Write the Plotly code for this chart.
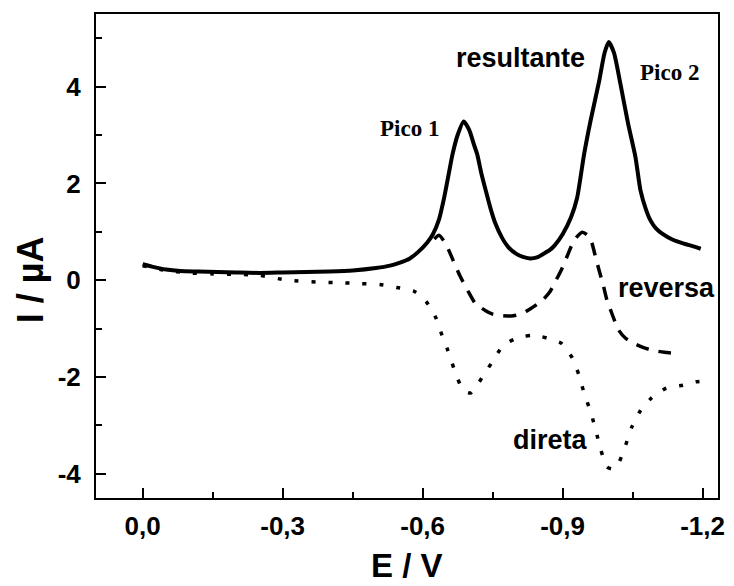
import plotly.graph_objects as go

# Potential E (V) and current I (µA) read along each voltammogram component
E_resultante = [0.00, -0.02, -0.05, -0.08, -0.12, -0.16, -0.20, -0.25, -0.30, -0.35,
                -0.40, -0.45, -0.50, -0.53, -0.55, -0.571, -0.59, -0.61, -0.622, -0.635,
                -0.646, -0.655, -0.664, -0.675, -0.688, -0.700, -0.710, -0.717, -0.726, -0.734,
                -0.745, -0.756, -0.770, -0.784, -0.800, -0.815, -0.830, -0.845, -0.860, -0.872,
                -0.883, -0.900, -0.918, -0.931, -0.946, -0.960, -0.978, -0.990, -0.999, -1.010,
                -1.024, -1.040, -1.056, -1.067, -1.078, -1.088, -1.100, -1.115, -1.135, -1.158,
                -1.180, -1.196]
I_resultante = [0.33, 0.28, 0.22, 0.19, 0.18, 0.17, 0.16, 0.15, 0.16, 0.17,
                0.18, 0.20, 0.25, 0.30, 0.36, 0.44, 0.58, 0.78, 0.95, 1.25,
                1.70, 2.15, 2.60, 3.00, 3.28, 3.10, 2.80, 2.60, 2.20, 1.90,
                1.50, 1.17, 0.88, 0.68, 0.55, 0.48, 0.45, 0.47, 0.55, 0.62,
                0.72, 0.95, 1.30, 1.70, 2.60, 3.30, 4.10, 4.70, 4.92, 4.70,
                4.05, 3.25, 2.55, 1.85, 1.48, 1.24, 1.07, 0.95, 0.84, 0.76,
                0.70, 0.65]

E_reversa = [-0.625, -0.635, -0.645, -0.656, -0.668, -0.681, -0.697, -0.713, -0.735, -0.750,
             -0.770, -0.790, -0.810, -0.826, -0.845, -0.860, -0.872, -0.886, -0.900, -0.912,
             -0.925, -0.942, -0.955, -0.963, -0.970, -0.978, -0.987, -0.995, -1.008, -1.020,
             -1.035, -1.052, -1.072, -1.094, -1.118, -1.140]
I_reversa = [0.85, 0.93, 0.82, 0.62, 0.35, 0.07, -0.22, -0.48, -0.63, -0.70,
             -0.73, -0.74, -0.70, -0.62, -0.50, -0.38, -0.25, 0.00, 0.27, 0.55,
             0.83, 0.99, 0.92, 0.76, 0.50, 0.21, -0.10, -0.41, -0.75, -1.03,
             -1.20, -1.30, -1.39, -1.45, -1.49, -1.51]

E_direta = [0.00, -0.05, -0.10, -0.15, -0.20, -0.25, -0.31, -0.375, -0.42, -0.466,
            -0.508, -0.544, -0.58, -0.598, -0.612, -0.629, -0.639, -0.654, -0.667, -0.681,
            -0.692, -0.703, -0.715, -0.728, -0.749, -0.770, -0.786, -0.802, -0.818, -0.834,
            -0.852, -0.868, -0.883, -0.897, -0.910, -0.921, -0.935, -0.946, -0.961, -0.971,
            -0.982, -0.995, -1.008, -1.020, -1.035, -1.048, -1.067, -1.090, -1.122, -1.158,
            -1.185, -1.195]
I_direta = [0.30, 0.20, 0.15, 0.13, 0.12, 0.10, 0.00, -0.04, -0.05, -0.07,
            -0.09, -0.15, -0.22, -0.33, -0.50, -0.79, -1.07, -1.45, -1.82, -2.17,
            -2.30, -2.33, -2.20, -2.00, -1.69, -1.38, -1.27, -1.20, -1.16, -1.14,
            -1.16, -1.20, -1.25, -1.30, -1.45, -1.61, -1.96, -2.33, -2.75, -3.10,
            -3.51, -3.86, -3.90, -3.78, -3.41, -3.04, -2.69, -2.44, -2.23, -2.17,
            -2.10, -2.09]

# Axis ticks
x_tick_vals = [0.0, -0.3, -0.6, -0.9, -1.2]
x_tick_text = ["0,0", "-0,3", "-0,6", "-0,9", "-1,2"]
x_minor_vals = [-0.15, -0.45, -0.75, -1.05]
y_tick_vals = [-4, -2, 0, 2, 4]
y_tick_text = ["-4", "-2", "0", "2", "4"]
y_minor_vals = [-3, -1, 1, 3, 5]

SANS = "Liberation Sans, Arial, sans-serif"
SERIF = "Liberation Serif, Times New Roman, serif"

fig = go.Figure()
fig.add_trace(go.Scatter(x=E_direta, y=I_direta, mode="lines", name="direta",
                         line=dict(color="black", width=3.5, dash="4px,13px",
                                   shape="spline", smoothing=0.6)))
fig.add_trace(go.Scatter(x=E_reversa, y=I_reversa, mode="lines", name="reversa",
                         line=dict(color="black", width=3.5, dash="13px,10px",
                                   shape="spline", smoothing=0.6)))
fig.add_trace(go.Scatter(x=E_resultante, y=I_resultante, mode="lines", name="resultante",
                         line=dict(color="black", width=4,
                                   shape="spline", smoothing=0.6)))

axis_common = dict(showline=True, linecolor="black", linewidth=2, mirror=True,
                   ticks="inside", ticklen=10, tickwidth=2, tickcolor="black",
                   showgrid=False, zeroline=False,
                   tickfont=dict(family=SANS, size=26, color="black", weight="bold"))

fig.update_xaxes(range=[0.1, -1.233], tickmode="array", tickvals=x_tick_vals,
                 ticktext=x_tick_text, ticklabelstandoff=4,
                 minor=dict(tickmode="array", tickvals=x_minor_vals, ticks="inside",
                            ticklen=6, tickwidth=2, tickcolor="black"),
                 **axis_common)
fig.update_yaxes(range=[-4.5, 5.5], tickmode="array", tickvals=y_tick_vals,
                 ticktext=y_tick_text, ticklabelstandoff=8,
                 minor=dict(tickmode="array", tickvals=y_minor_vals, ticks="inside",
                            ticklen=6, tickwidth=2, tickcolor="black"),
                 **axis_common)

annotations = [
    # axis titles
    dict(text="E / V", xref="paper", yref="paper", x=0.5, y=0, yshift=-88,
         xanchor="center", yanchor="bottom", showarrow=False,
         font=dict(family=SANS, size=33, color="black", weight="bold")),
    dict(text="I / µA", xref="paper", yref="paper", x=0, y=0.45, xshift=-66,
         xanchor="center", yanchor="middle", textangle=-90, showarrow=False,
         font=dict(family=SANS, size=36, color="black", weight="bold")),
    # curve labels
    dict(text="Pico 1", x=-0.571, y=3.14, showarrow=False,
         font=dict(family=SERIF, size=23, color="black", weight="bold")),
    dict(text="Pico 2", x=-1.128, y=4.30, showarrow=False,
         font=dict(family=SERIF, size=23, color="black", weight="bold")),
    dict(text="resultante", x=-0.81, y=4.59, showarrow=False,
         font=dict(family=SANS, size=27, color="black", weight="bold")),
    dict(text="reversa", x=-1.122, y=-0.17, showarrow=False,
         font=dict(family=SANS, size=27, color="black", weight="bold")),
    dict(text="direta", x=-0.874, y=-3.31, showarrow=False,
         font=dict(family=SANS, size=27, color="black", weight="bold")),
]

fig.update_layout(width=734, height=586, margin=dict(l=96, r=9, t=14, b=88),
                  paper_bgcolor="white", plot_bgcolor="white",
                  showlegend=False, annotations=annotations)

fig.write_html("out.html")
